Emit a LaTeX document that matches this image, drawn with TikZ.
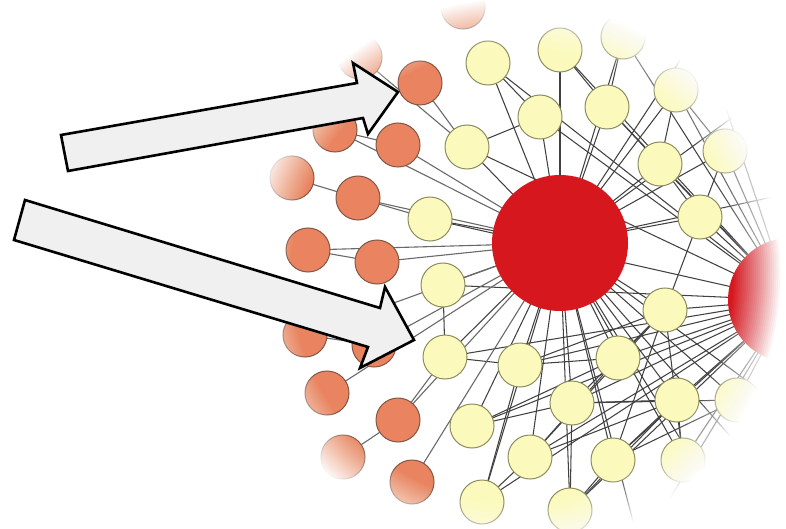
\documentclass[tikz,border=0pt]{standalone}
\usetikzlibrary{backgrounds}
\definecolor{hubred}{RGB}{214,24,30}
\definecolor{ylw}{RGB}{251,250,188}
\definecolor{ylwedge}{RGB}{140,140,95}
\definecolor{org}{RGB}{234,132,96}
\definecolor{orgedge}{RGB}{130,85,68}
\definecolor{lnk}{RGB}{65,65,65}
\definecolor{olnk}{RGB}{105,105,105}
\definecolor{arrfill}{RGB}{240,240,240}
\begin{document}
\begin{tikzpicture}[x=1pt,y=-1pt,
  ynode/.style={circle, fill=ylw, draw=ylwedge, line width=1pt, minimum size=44pt, inner sep=0pt},
  onode/.style={circle, fill=org, draw=orgedge, line width=1pt, minimum size=44pt, inner sep=0pt},
  hub/.style={circle, fill=hubred, inner sep=0pt},
  link/.style={draw=lnk, line width=1.05pt},
  olink/.style={draw=olnk, line width=1.1pt},
  blockarrow/.style={fill=arrfill, draw=black, line width=2.6pt, line join=miter}]
\useasboundingbox (0,0) rectangle (786,529);

% hubs
\node[hub, minimum size=136pt] (h1) at (560,243) {};
\node[hub, minimum size=124pt] (h2) at (790,300) {};

% yellow nodes (26-32 lie in the faded rim)
\foreach \n/\x/\y in {1/488/63, 2/560/50, 3/623/37, 4/540/117, 5/607/107, 6/676/90,
  7/467/147, 8/660/164, 9/725/151, 10/430/219, 11/700/217, 12/443/285, 13/665/310,
  14/445/357, 15/520/365, 16/618/358, 17/572/403, 18/677/400, 19/472/426, 20/530/457,
  21/613/460, 22/683/460, 23/482/502, 24/570/510, 25/737/400,
  26/770/90, 27/800/420, 28/730/520, 29/640/548, 30/760/470, 31/805/190, 32/700/30}
  \node[ynode] (y\n) at (\x,\y) {};

% orange nodes
\foreach \n/\x/\y in {1/420/83, 2/335/130, 3/398/145, 4/292/178, 5/358/198, 6/308/250,
  7/377/262, 8/305/335, 9/374/345, 10/327/393, 11/398/420, 12/343/457, 13/412/482}
  \node[onode] (o\n) at (\x,\y) {};
\node[onode] (p1) at (360,57) {};
\node[onode] (p2) at (463,7) {};

\begin{pgfonlayer}{background}
  \fill[white] (0,0) rectangle (786,529);
  \foreach \i in {1,...,32} {
    \draw[link] (h1.center) -- (y\i.center);
    \draw[link] (h2.center) -- (y\i.center);
  }
  \foreach \a/\b in {14/15, 15/16, 16/13, 17/13, 17/18, 19/17, 20/18, 20/16, 23/20,
    23/15, 24/17, 24/21, 21/18, 21/13, 12/14, 7/4, 1/4, 5/8, 8/11, 2/5, 6/8, 9/11,
    11/13, 19/16, 22/13, 22/18, 20/13, 24/18, 3/5, 6/9, 15/13, 17/25, 21/25}
    \draw[link] (y\a.center) -- (y\b.center);
  % orange connections
  \draw[olink] (p1.center) -- (y7.center);
  \draw[olink] (o1.center) -- (y7.center);
  \draw[olink] (o2.center) -- (o3.center);
  \draw[olink] (o2.center) -- (h1.center);
  \draw[olink] (o3.center) -- (h1.center);
  \draw[olink] (o4.center) -- (o5.center);
  \draw[olink] (o5.center) -- (y10.center);
  \draw[olink] (o5.center) -- (h1.center);
  \draw[olink] (o6.center) -- (o7.center);
  \draw[olink] (o6.center) -- (h1.center);
  \draw[olink] (o7.center) -- (h1.center);
  \draw[olink] (o8.center) -- (o9.center);
  \draw[olink] (o8.center) -- (h1.center);
  \draw[olink] (o9.center) -- (h1.center);
  \draw[olink] (o10.center) -- (h1.center);
  \draw[olink] (o11.center) -- (y14.center);
  \draw[olink] (o11.center) -- (h1.center);
  \draw[olink] (o12.center) -- (o11.center);
  \draw[olink] (o13.center) -- (h1.center);
\end{pgfonlayer}

% circular vignette fading to white
\foreach \k in {1,...,24} {
  \pgfmathsetmacro\s{0.86+0.18*(\k-1)/23}
  \pgfmathsetmacro\op{1/(25-\k)}
  \pgfmathsetmacro\rx{258*\s}
  \pgfmathsetmacro\ry{265*\s}
  \fill[white, fill opacity=\op, even odd rule]
    (-20,-20) rectangle (820,560) (512,275) ellipse [x radius=\rx, y radius=\ry];
}

% block arrows
\draw[blockarrow] (61,135) -- (357,83) -- (353,63) -- (398,92) -- (368,134) -- (363,118) -- (68,171) -- cycle;
\draw[blockarrow] (25,200) -- (380,308) -- (385,287) -- (414,340) -- (360,368) -- (368,347) -- (14,240) -- cycle;
\end{tikzpicture}
\end{document}
